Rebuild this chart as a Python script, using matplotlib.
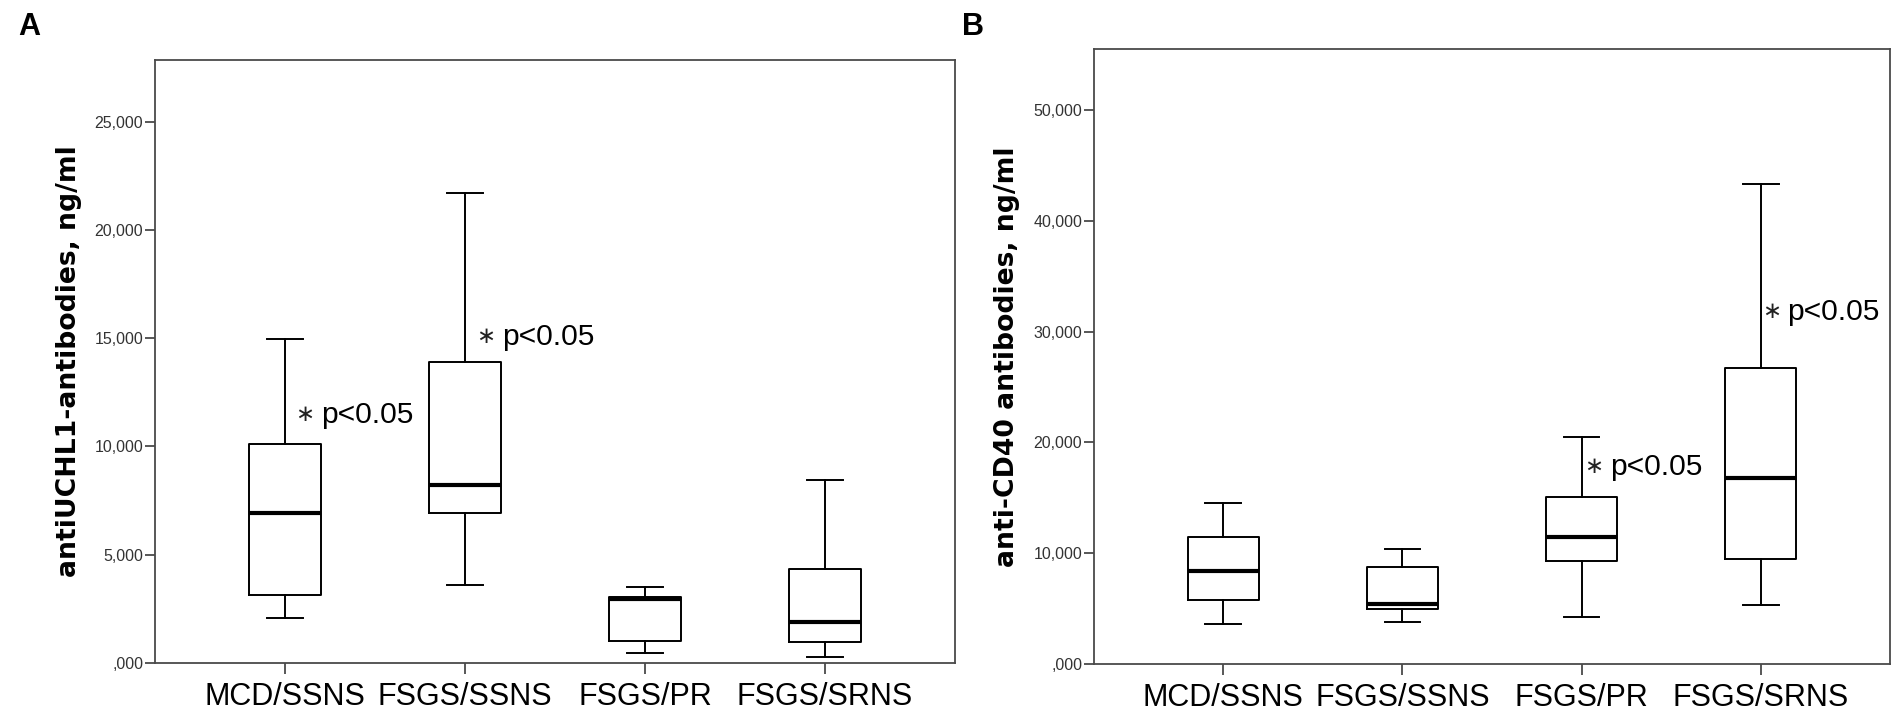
import matplotlib
matplotlib.use("Agg")
import matplotlib.pyplot as plt

# ---------------- data ----------------
categories = ["MCD/SSNS", "FSGS/SSNS", "FSGS/PR", "FSGS/SRNS"]

# Panel A: antiUCHL1-antibodies, ng/ml
a_whislo = [2.08, 3.61, 0.44, 0.28]
a_q1     = [3.13, 6.90, 1.00, 0.96]
a_med    = [6.92, 8.21, 2.96, 1.88]
a_q3     = [10.09, 13.91, 3.02, 4.32]
a_whishi = [14.95, 21.71, 3.49, 8.45]
a_ticks = [0, 5, 10, 15, 20, 25]
a_ticklabels = [",000", "5,000", "10,000", "15,000", "20,000", "25,000"]

# Panel B: anti-CD40 antibodies, ng/ml
b_whislo = [3.61, 3.76, 4.27, 5.33]
b_q1     = [5.78, 4.94, 9.27, 9.45]
b_med    = [8.42, 5.39, 11.49, 16.76]
b_q3     = [11.43, 8.78, 15.10, 26.68]
b_whishi = [14.56, 10.38, 20.49, 43.35]
b_ticks = [0, 10, 20, 30, 40, 50]
b_ticklabels = [",000", "10,000", "20,000", "30,000", "40,000", "50,000"]

star = "\u2217"
ptext = "p<0.05"

# ---------------- figure ----------------
W, H = 1901, 727
fig = plt.figure(figsize=(W / 100, H / 100), dpi=100)

def px_axes(l, t, r, b):
    return fig.add_axes([l / W, 1 - b / H, (r - l) / W, (b - t) / H])

axA = px_axes(155, 60, 955, 662.7)
axB = px_axes(1094, 49, 1890, 664)

SPINE = "#4a4a4a"
TICKC = "#333333"
sans = ["Liberation Sans", "DejaVu Sans"]


def draw(ax, lo, q1, med, q3, hi, ylim, ticks, ticklabels, ylabel):
    stats = []
    for i, c in enumerate(categories):
        stats.append(dict(label=c, whislo=lo[i], q1=q1[i], med=med[i],
                          q3=q3[i], whishi=hi[i], fliers=[]))
    pos = list(range(1, len(categories) + 1))
    ax.bxp(stats, positions=pos, widths=0.4, capwidths=0.2,
           showfliers=False, patch_artist=False,
           boxprops=dict(color="black", linewidth=1.4),
           whiskerprops=dict(color="black", linewidth=1.4),
           capprops=dict(color="black", linewidth=1.4),
           medianprops=dict(color="black", linewidth=3.0))
    ax.set_xlim(1 - 130 / 180, len(categories) + 130 / 180)
    ax.set_ylim(*ylim)
    ax.set_yticks(ticks)
    ax.set_yticklabels(ticklabels, fontsize=11.5, color=TICKC, family=sans)
    ax.set_xticks(pos)
    ax.set_xticklabels(categories, fontsize=22, color="black", family=sans)
    for s in ax.spines.values():
        s.set_color(SPINE)
        s.set_linewidth(1.3)
    ax.tick_params(axis="y", direction="out", length=7.5, width=1.3,
                   color=SPINE, pad=1)
    ax.tick_params(axis="x", direction="out", length=8, width=1.3,
                   color=SPINE, pad=6)
    ax.set_ylabel(ylabel, fontsize=19.2, fontweight="bold",
                  family=["DejaVu Sans"], va="center")


def signif(ax, x, y, dx_star, dx_text):
    ax.annotate(star, xy=(x, y), xytext=(dx_star, 2.0),
                textcoords="offset pixels", fontsize=16.5,
                family=["DejaVu Sans"], ha="center", va="baseline",
                color="#222222")
    ax.annotate(ptext, xy=(x, y), xytext=(dx_text, 0),
                textcoords="offset pixels", fontsize=21.6, family=sans,
                ha="left", va="baseline")


draw(axA, a_whislo, a_q1, a_med, a_q3, a_whishi, (0, 27.87),
     a_ticks, a_ticklabels, "antiUCHL1-antibodies, ng/ml")
axA.yaxis.set_label_coords((69 - 155) / 800, 0.5)

draw(axB, b_whislo, b_q1, b_med, b_q3, b_whishi, (0, 55.5),
     b_ticks, b_ticklabels, "anti-CD40 antibodies, ng/ml")
axB.yaxis.set_label_coords((1007 - 1094) / 796, 0.5)

# significance annotations (anchored on the group's whisker)
signif(axA, 1, 11.08, 20, 36)
signif(axA, 2, 14.67, 21, 37)
signif(axB, 3, 17.06, 12, 29)
signif(axB, 4, 31.05, 11, 26)

# panel letters
fig.text(18 / W, 1 - 12 / H, "A", fontsize=22, fontweight="bold",
         family=sans, ha="left", va="top")
fig.text(962 / W, 1 - 12 / H, "B", fontsize=22, fontweight="bold",
         family=sans, ha="left", va="top")

fig.savefig("out.png", dpi=100)
